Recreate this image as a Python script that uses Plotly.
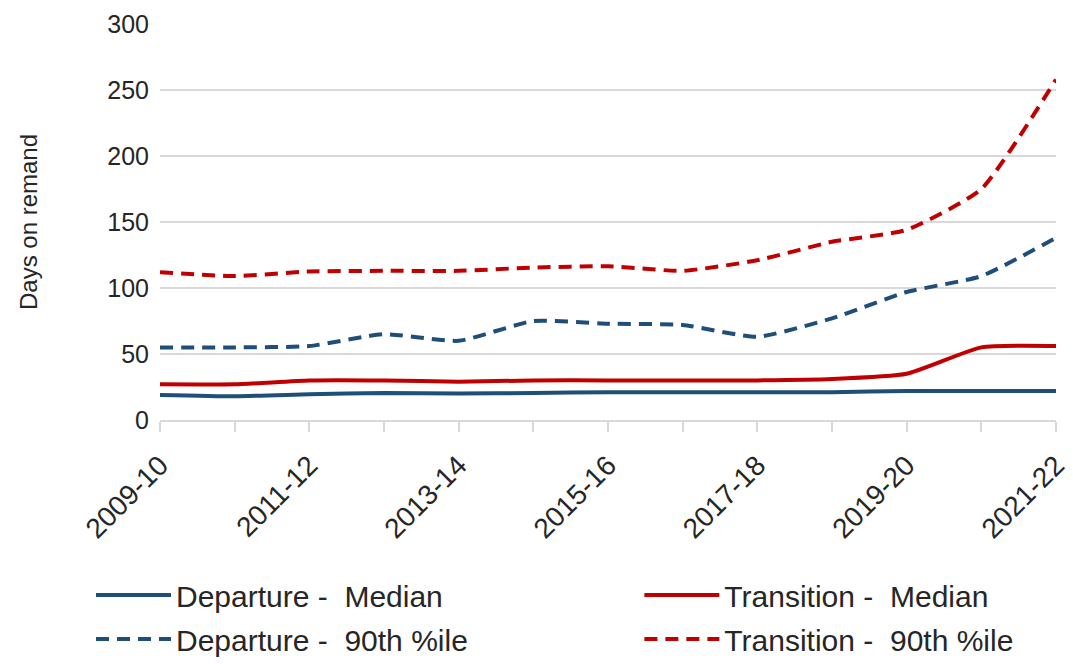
import plotly.graph_objects as go

categories = ["2009-10", "2010-11", "2011-12", "2012-13", "2013-14", "2014-15", "2015-16",
              "2016-17", "2017-18", "2018-19", "2019-20", "2020-21", "2021-22"]
departure_median = [19, 18, 19.5, 20.5, 20, 20.5, 21, 21, 21, 21, 22, 22, 22]
transition_median = [27, 27, 30, 30, 29, 30, 30, 30, 30, 31, 35, 55, 56]
departure_p90 = [55, 55, 56, 65, 60, 75, 73, 72, 63, 77, 97, 109, 138]
transition_p90 = [112, 109, 112.5, 113, 113, 115.5, 116.5, 113, 121, 135, 144, 175, 258]
tick_labels = [c if i % 2 == 0 else "" for i, c in enumerate(categories)]

BLUE = "#1F4E79"
RED = "#C00000"
FONT = "Liberation Sans, Arial, sans-serif"
TXT = "#262626"

fig = go.Figure()
series = [
    ("Departure -  Median", departure_median, BLUE, "solid", "legend"),
    ("Departure -  90th %ile", departure_p90, BLUE, "13px,8px", "legend"),
    ("Transition -  Median", transition_median, RED, "solid", "legend2"),
    ("Transition -  90th %ile", transition_p90, RED, "13px,8px", "legend2"),
]
for name, vals, color, dash, lg in series:
    fig.add_trace(go.Scatter(
        x=categories, y=vals, name=name, mode="lines", legend=lg, legendgroup=name,
        line=dict(color=color, width=4, dash=dash, shape="spline", smoothing=0.5),
    ))

legend_common = dict(
    orientation="v", y=-0.376, xanchor="left", yanchor="top",
    itemwidth=75, font=dict(family=FONT, size=30, color=TXT),
    tracegroupgap=2, traceorder="grouped", bgcolor="rgba(0,0,0,0)",
)

fig.update_layout(
    width=1073, height=664,
    margin=dict(l=160, r=17, t=24, b=244, autoexpand=False),
    paper_bgcolor="white", plot_bgcolor="white",
    font=dict(family=FONT, size=22, color=TXT),
    showlegend=True,
    legend=dict(x=-0.077, **legend_common),
    legend2=dict(x=0.535, **legend_common),
)
fig.update_xaxes(
    type="category", tickmode="array", tickvals=categories, ticktext=tick_labels,
    tickangle=-45, showgrid=False, showline=True, linecolor="#d9d9d9", linewidth=1.5,
    ticks="outside", ticklen=10, tickcolor="#d9d9d9", tickwidth=1.5,
    tickfont=dict(family=FONT, size=28, color=TXT), range=[0, 12],
    automargin=False, ticklabelstandoff=6,
)
fig.update_yaxes(
    range=[0, 300], dtick=50, showgrid=True, gridcolor="#d9d9d9", gridwidth=1.5,
    zeroline=False, showline=False, ticks="",
    tickfont=dict(family=FONT, size=25, color=TXT), ticklabelstandoff=10,
    automargin=False,
    title=dict(text="Days on remand", font=dict(family=FONT, size=24, color=TXT), standoff=62),
)

fig.write_html("out.html", config={"displayModeBar": False},
               post_script="document.body.style.margin='0px';")
